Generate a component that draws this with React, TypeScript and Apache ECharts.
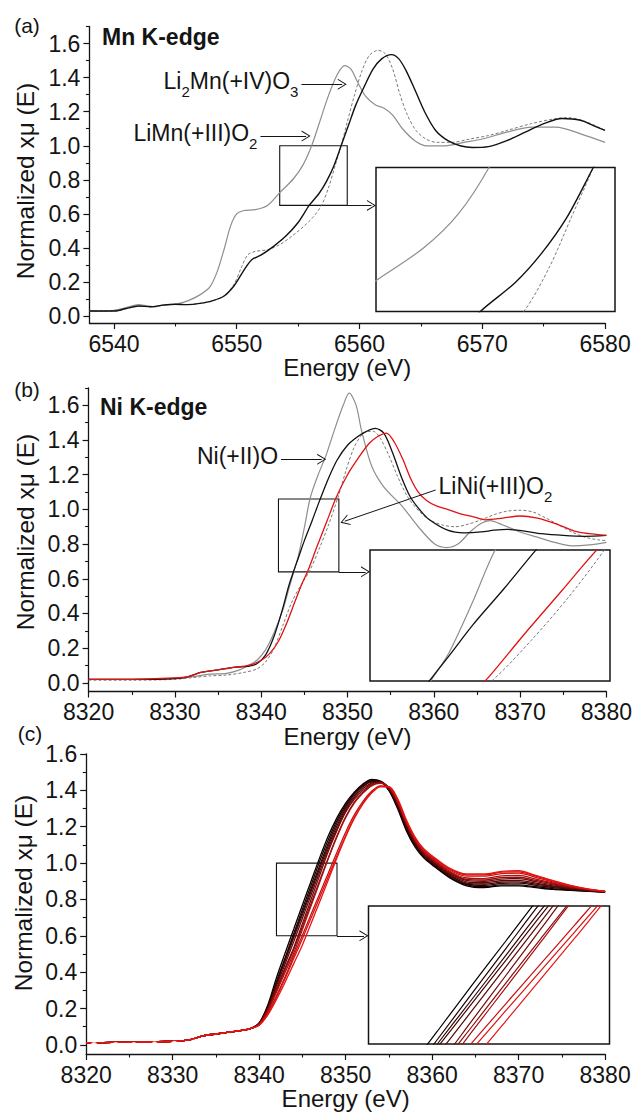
import React, { useEffect, useRef } from "react";
import * as echarts from "echarts";

const FONT = "'Liberation Sans', Arial, Helvetica, sans-serif";
const INK = "#141414";
const GRAY = "#8e8e8e";
const DASH = "#7a7a7a";
const BLACK = "#111111";
const RED = "#e01212";

// ---------- ticks ----------
const MN_X_TICKS = [6540, 6550, 6560, 6570, 6580];
const MN_X_MINOR = [6545, 6555, 6565, 6575];
const NI_X_TICKS = [8320, 8330, 8340, 8350, 8360, 8370, 8380];
const NI_X_MINOR = [8325, 8335, 8345, 8355, 8365, 8375];
const Y_TICKS = [0, 0.2, 0.4, 0.6, 0.8, 1.0, 1.2, 1.4, 1.6];
const Y_MINOR_AB = [0.1, 0.3, 0.5, 0.7, 0.9, 1.1, 1.3, 1.5, 1.7];
const Y_MINOR_C = [0.1, 0.3, 0.5, 0.7, 0.9, 1.1, 1.3, 1.5];

// ---------- (a) Mn K-edge ----------
const MN_GRAY_E = [6538, 6539, 6540, 6541, 6542, 6542.7, 6543.3, 6544, 6545, 6546, 6547, 6547.8, 6548.4, 6549, 6549.5, 6550, 6550.6, 6551.5, 6552.5, 6553.5, 6554.6, 6555.4, 6556.1, 6556.8, 6557.5, 6558.2, 6558.8, 6559.3, 6559.8, 6560.5, 6561.3, 6562, 6562.7, 6563.5, 6564.5, 6565.5, 6567, 6568.5, 6570, 6572, 6574, 6576, 6578, 6580];
const MN_GRAY_MU = [0.03, 0.03, 0.035, 0.05, 0.068, 0.06, 0.055, 0.065, 0.07, 0.09, 0.125, 0.17, 0.26, 0.4, 0.53, 0.6, 0.62, 0.625, 0.65, 0.725, 0.805, 0.888, 1.0, 1.15, 1.3, 1.42, 1.47, 1.45, 1.38, 1.29, 1.24, 1.22, 1.18, 1.1, 1.03, 1.0, 1.0, 1.02, 1.04, 1.08, 1.11, 1.11, 1.07, 1.02];
const MN_BLACK_E = [6538, 6540, 6541, 6542, 6543, 6544, 6545, 6546, 6547, 6548, 6549, 6549.8, 6550.5, 6551.2, 6552, 6553, 6554, 6555, 6555.9, 6556.7, 6557.3, 6557.9, 6558.5, 6559.1, 6559.7, 6560.4, 6561.1, 6561.8, 6562.6, 6563.2, 6563.8, 6564.5, 6565.3, 6566.2, 6567.2, 6568.2, 6569.2, 6570.5, 6572, 6573.5, 6575, 6576.5, 6578, 6579, 6580];
const MN_BLACK_MU = [0.03, 0.03, 0.045, 0.06, 0.055, 0.065, 0.07, 0.068, 0.075, 0.09, 0.12, 0.18, 0.26, 0.33, 0.36, 0.41, 0.47, 0.55, 0.65, 0.72, 0.79, 0.88, 1.0, 1.12, 1.24, 1.35, 1.45, 1.51, 1.535, 1.51, 1.44, 1.33, 1.2, 1.09, 1.03, 1.0, 0.99, 0.995, 1.03, 1.08, 1.13, 1.16, 1.15, 1.12, 1.09];
const MN_DASH_E = [6538, 6540, 6541, 6542, 6543, 6544, 6545, 6546, 6547, 6548, 6549, 6549.8, 6550.4, 6550.9, 6551.5, 6552.5, 6553.5, 6554.5, 6555.5, 6556.2, 6556.9, 6557.5, 6558, 6558.5, 6559, 6559.6, 6560.2, 6560.8, 6561.5, 6562.1, 6562.7, 6563.3, 6563.9, 6564.6, 6565.4, 6566.3, 6567.5, 6569, 6570.5, 6572, 6574, 6576, 6577, 6578.5, 6580];
const MN_DASH_MU = [0.03, 0.03, 0.045, 0.06, 0.055, 0.065, 0.07, 0.068, 0.075, 0.09, 0.12, 0.19, 0.29, 0.36, 0.38, 0.39, 0.42, 0.47, 0.53, 0.58, 0.65, 0.76, 0.88, 1.0, 1.14, 1.3, 1.44, 1.53, 1.56, 1.54, 1.45, 1.3, 1.18, 1.09, 1.04, 1.02, 1.02, 1.04, 1.06, 1.09, 1.13, 1.16, 1.165, 1.14, 1.09];

// ---------- (b) Ni K-edge references ----------
const NI_GRAY_E = [8320, 8325, 8330, 8332, 8334, 8336, 8337.5, 8338.5, 8339.5, 8340.5, 8341.5, 8342.5, 8343.2, 8343.8, 8344.3, 8345, 8345.7, 8346.6, 8347.5, 8348.5, 8349.5, 8350.2, 8351, 8351.6, 8352.8, 8354.2, 8356.3, 8358.2, 8360.1, 8361.5, 8362.8, 8364.2, 8365.5, 8366.5, 8368, 8370, 8372, 8374, 8376, 8378, 8380];
const NI_GRAY_MU = [0.02, 0.02, 0.025, 0.035, 0.05, 0.055, 0.075, 0.1, 0.13, 0.19, 0.29, 0.42, 0.54, 0.645, 0.73, 0.895, 1.07, 1.2, 1.31, 1.46, 1.6, 1.67, 1.6, 1.46, 1.25, 1.13, 1.02, 0.9, 0.8, 0.78, 0.8, 0.87, 0.92, 0.935, 0.91, 0.87, 0.84, 0.81, 0.79, 0.795, 0.81];
const NI_BLACK_E = [8320, 8325, 8330, 8331.5, 8333, 8335, 8337, 8338.5, 8339.5, 8340.5, 8341.5, 8342.5, 8343.2, 8343.8, 8344.3, 8345, 8345.9, 8346.8, 8347.8, 8348.8, 8350, 8351.2, 8352.2, 8353.2, 8354.2, 8355.2, 8356.3, 8357.3, 8358.5, 8359.5, 8361.6, 8363.5, 8365.5, 8367, 8368.5, 8370.5, 8372.5, 8375, 8377.5, 8380];
const NI_BLACK_MU = [0.02, 0.02, 0.025, 0.035, 0.06, 0.075, 0.09, 0.095, 0.11, 0.16, 0.27, 0.43, 0.56, 0.65, 0.72, 0.82, 0.935, 1.055, 1.18, 1.285, 1.37, 1.42, 1.45, 1.467, 1.44, 1.33, 1.18, 1.07, 0.99, 0.94, 0.88, 0.865, 0.87, 0.88, 0.885, 0.875, 0.86, 0.85, 0.845, 0.85];
const NI_RED_E = [8320, 8325, 8330, 8331.5, 8333, 8335, 8337, 8338.5, 8340, 8341, 8342, 8343, 8344, 8344.8, 8345.4, 8346.5, 8347.6, 8348.7, 8350, 8351.3, 8352.5, 8353.5, 8354.5, 8355.4, 8356.4, 8357.3, 8358.2, 8359.2, 8360.3, 8361.6, 8363, 8364.4, 8366, 8368, 8370, 8372, 8374, 8376.3, 8378, 8380];
const NI_RED_MU = [0.02, 0.02, 0.028, 0.035, 0.06, 0.075, 0.09, 0.1, 0.13, 0.17, 0.24, 0.35, 0.48, 0.58, 0.645, 0.79, 0.93, 1.07, 1.2, 1.3, 1.38, 1.42, 1.44, 1.39, 1.29, 1.18, 1.1, 1.05, 1.02, 1.0, 0.975, 0.96, 0.94, 0.95, 0.962, 0.95, 0.92, 0.875, 0.86, 0.85];
const NI_DASH_E = [8320, 8325, 8330, 8332, 8334, 8336, 8338, 8339.5, 8340.5, 8341.5, 8342.5, 8343.5, 8344.5, 8345.6, 8346.7, 8347.8, 8348.9, 8349.8, 8350.7, 8351.5, 8352.3, 8353, 8353.8, 8354.8, 8355.8, 8357, 8358.3, 8359.5, 8361, 8362.5, 8364, 8365.5, 8367, 8368.5, 8370, 8371.5, 8373, 8374.5, 8376, 8377.5, 8379, 8380];
const NI_DASH_MU = [0.015, 0.015, 0.02, 0.03, 0.04, 0.045, 0.06, 0.08, 0.12, 0.2, 0.33, 0.46, 0.555, 0.645, 0.77, 0.91, 1.07, 1.22, 1.35, 1.42, 1.45, 1.45, 1.41, 1.31, 1.19, 1.07, 0.99, 0.94, 0.91, 0.9, 0.915, 0.94, 0.97, 0.99, 0.995, 0.985, 0.95, 0.91, 0.87, 0.84, 0.825, 0.82];

// ---------- (c) Ni K-edge series of spectra ----------
const C_PRE_E = [8320, 8322, 8324, 8326, 8328, 8330, 8331.5, 8332.5, 8333.5, 8335, 8336.5, 8338, 8339];
const C_PRE_MU = [0.012, 0.013, 0.014, 0.015, 0.017, 0.02, 0.025, 0.035, 0.05, 0.06, 0.07, 0.08, 0.09];
const C_EDGE_E = [8340, 8341, 8342, 8343, 8344, 8345, 8346, 8347, 8348, 8349, 8350, 8351, 8352, 8353, 8354, 8355, 8356, 8357, 8358, 8359, 8360, 8362, 8364, 8366, 8368, 8370, 8372, 8374, 8376, 8378, 8380];
const C_MU_1 = [0.12, 0.22, 0.37, 0.505, 0.637, 0.77, 0.9, 1.03, 1.15, 1.25, 1.33, 1.39, 1.435, 1.46, 1.45, 1.4, 1.3, 1.18, 1.09, 1.03, 0.99, 0.92, 0.875, 0.865, 0.875, 0.875, 0.865, 0.855, 0.85, 0.845, 0.84];
const C_MU_2 = [0.12, 0.21, 0.35, 0.48, 0.613, 0.746, 0.878, 1.01, 1.13, 1.235, 1.32, 1.385, 1.43, 1.455, 1.45, 1.4, 1.31, 1.19, 1.1, 1.035, 0.995, 0.925, 0.88, 0.87, 0.88, 0.88, 0.87, 0.86, 0.852, 0.846, 0.84];
const C_MU_3 = [0.12, 0.21, 0.34, 0.47, 0.6, 0.729, 0.858, 0.987, 1.11, 1.22, 1.31, 1.38, 1.425, 1.45, 1.45, 1.405, 1.315, 1.2, 1.105, 1.04, 1.0, 0.93, 0.885, 0.878, 0.888, 0.89, 0.878, 0.865, 0.855, 0.847, 0.84];
const C_MU_4 = [0.12, 0.205, 0.335, 0.463, 0.59, 0.717, 0.844, 0.972, 1.095, 1.205, 1.3, 1.37, 1.42, 1.445, 1.447, 1.41, 1.32, 1.205, 1.11, 1.045, 1.005, 0.935, 0.89, 0.885, 0.895, 0.897, 0.884, 0.87, 0.858, 0.848, 0.84];
const C_MU_5 = [0.115, 0.2, 0.325, 0.445, 0.568, 0.696, 0.825, 0.954, 1.08, 1.19, 1.29, 1.36, 1.41, 1.44, 1.445, 1.41, 1.325, 1.21, 1.115, 1.05, 1.01, 0.94, 0.897, 0.892, 0.903, 0.905, 0.89, 0.874, 0.86, 0.85, 0.84];
const C_MU_6 = [0.115, 0.195, 0.31, 0.425, 0.535, 0.667, 0.8, 0.933, 1.065, 1.18, 1.28, 1.35, 1.4, 1.435, 1.443, 1.415, 1.33, 1.215, 1.12, 1.055, 1.015, 0.945, 0.905, 0.9, 0.912, 0.915, 0.898, 0.88, 0.864, 0.852, 0.842];
const C_MU_7 = [0.115, 0.19, 0.3, 0.415, 0.525, 0.65, 0.778, 0.905, 1.03, 1.15, 1.255, 1.335, 1.39, 1.43, 1.44, 1.415, 1.335, 1.22, 1.125, 1.06, 1.02, 0.95, 0.91, 0.907, 0.92, 0.922, 0.905, 0.885, 0.868, 0.854, 0.843];
const C_MU_8 = [0.112, 0.185, 0.29, 0.4, 0.505, 0.635, 0.765, 0.895, 1.025, 1.145, 1.25, 1.33, 1.385, 1.425, 1.438, 1.418, 1.34, 1.225, 1.13, 1.065, 1.025, 0.955, 0.918, 0.915, 0.93, 0.932, 0.912, 0.89, 0.872, 0.856, 0.844];
const C_MU_9 = [0.11, 0.175, 0.27, 0.375, 0.49, 0.603, 0.718, 0.832, 0.946, 1.06, 1.17, 1.265, 1.34, 1.395, 1.425, 1.42, 1.345, 1.23, 1.135, 1.07, 1.03, 0.962, 0.928, 0.928, 0.942, 0.945, 0.922, 0.895, 0.873, 0.856, 0.844];
const C_MU_10 = [0.11, 0.17, 0.262, 0.365, 0.475, 0.584, 0.698, 0.812, 0.926, 1.04, 1.15, 1.25, 1.33, 1.39, 1.422, 1.42, 1.35, 1.235, 1.14, 1.075, 1.035, 0.968, 0.935, 0.935, 0.95, 0.952, 0.928, 0.9, 0.876, 0.857, 0.845];
const C_MU_11 = [0.108, 0.165, 0.25, 0.345, 0.447, 0.55, 0.668, 0.788, 0.908, 1.03, 1.145, 1.245, 1.325, 1.385, 1.42, 1.42, 1.355, 1.24, 1.145, 1.08, 1.04, 0.972, 0.94, 0.94, 0.955, 0.958, 0.932, 0.903, 0.878, 0.858, 0.845];
const C_COLORS = ["#000000", "#1e0202", "#300404", "#440606", "#5a0808", "#720a0a", "#8c0c0c", "#a80e0e", "#c81010", "#d81212", "#e81414"];
const C_MARK_E = [8320.9, 8323.4, 8325.5, 8327.9, 8330.2, 8332.6];
const C_MARK_MU = [-0.004, -0.004, -0.003, 0.0, 0.004, 0.012];

// ---------- layout (pixels) ----------
const L = {
  a: { left: 89.4, top: 26.5, width: 515.7, height: 296.5 },
  aIn: { left: 376, top: 167.5, width: 239, height: 144 },
  b: { left: 88.6, top: 388, width: 517.8, height: 303.5 },
  bIn: { left: 370, top: 550, width: 240, height: 131 },
  c: { left: 86.2, top: 754, width: 518.9, height: 300 },
  cIn: { left: 368.5, top: 906, width: 241, height: 138 },
};

const zip = (xs: number[], ys: number[]) => xs.map((x, i) => [x, ys[i]]);
const labelStyle = { fontSize: 23, fontFamily: FONT, color: INK };
const CHEVRON = "path://M0,10L5,0L10,10L9,10L5,2L1,10Z";
const RICH = {
  m: { fontSize: 23, fontFamily: FONT, color: INK, lineHeight: 30, verticalAlign: "top" },
  s: { fontSize: 15, fontFamily: FONT, color: INK, lineHeight: 15, verticalAlign: "bottom" },
};

function mainX(gridIndex: number, min: number, max: number, ticks: number[]) {
  return {
    type: "value", gridIndex, min, max, position: "bottom",
    axisLine: { show: true, onZero: false, lineStyle: { color: INK, width: 1.3 } },
    axisTick: { show: true, customValues: ticks, length: 6, lineStyle: { color: INK, width: 1.2 } },
    axisLabel: { show: true, customValues: ticks, margin: 9, ...labelStyle, formatter: (v: number) => String(Math.round(v)) },
    splitLine: { show: false },
    name: "Energy (eV)", nameLocation: "middle", nameGap: 29,
    nameTextStyle: { ...labelStyle, fontSize: 24 },
  };
}
function minorX(gridIndex: number, min: number, max: number, ticks: number[]) {
  return {
    type: "value", gridIndex, min, max, position: "bottom",
    axisLine: { show: false, onZero: false },
    axisTick: { show: true, customValues: ticks, length: 3.5, lineStyle: { color: INK, width: 1.1 } },
    axisLabel: { show: false }, splitLine: { show: false },
  };
}
function mainY(gridIndex: number, min: number, max: number) {
  return {
    type: "value", gridIndex, min, max, position: "left",
    axisLine: { show: true, onZero: false, lineStyle: { color: INK, width: 1.3 } },
    axisTick: { show: true, customValues: Y_TICKS, length: 6, lineStyle: { color: INK, width: 1.2 } },
    axisLabel: { show: true, customValues: Y_TICKS, margin: 9, ...labelStyle, formatter: (v: number) => v.toFixed(1) },
    splitLine: { show: false },
  };
}
function minorY(gridIndex: number, min: number, max: number, ticks: number[]) {
  return {
    type: "value", gridIndex, min, max, position: "left",
    axisLine: { show: false, onZero: false },
    axisTick: { show: true, customValues: ticks, length: 3.5, lineStyle: { color: INK, width: 1.1 } },
    axisLabel: { show: false }, splitLine: { show: false },
  };
}
function hidden(gridIndex: number, min: number, max: number) {
  return { type: "value", gridIndex, min, max, show: false, splitLine: { show: false } };
}
function line(ai: number, data: number[][], color: string, width: number, dashed = false, z = 2): any {
  return {
    type: "line", xAxisIndex: ai, yAxisIndex: ai, data, symbol: "none", showSymbol: false,
    smooth: 0.3, clip: true, silent: true, z,
    lineStyle: { color, width, type: dashed ? [3, 2] : "solid" },
    emphasis: { disabled: true },
  };
}
function box(x1: number, y1: number, x2: number, y2: number) {
  return {
    silent: true, emphasis: { disabled: true }, label: { show: false },
    itemStyle: { color: "rgba(0,0,0,0)", borderColor: INK, borderWidth: 1.1 },
    data: [[{ coord: [x1, y1] }, { coord: [x2, y2] }]],
  };
}
function arrow(x1: number, y1: number, x2: number, y2: number, text?: string) {
  return [
    { coord: [x1, y1], label: text ? { show: true, formatter: text } : { show: false } },
    { coord: [x2, y2] },
  ];
}
function arrows(items: any[]) {
  return {
    silent: true, symbol: ["none", CHEVRON], symbolSize: [11, 9],
    lineStyle: { color: INK, width: 1, type: "solid" },
    label: { show: true, position: "start", distance: 3, rich: RICH },
    emphasis: { disabled: true },
    data: items,
  };
}
function yTitle(x: number, y: number) {
  return {
    type: "text", x, y, rotation: Math.PI / 2,
    style: { text: "Normalized xμ (E)", fontSize: 24.5, fontFamily: FONT, fill: INK, align: "center", verticalAlign: "middle" },
  };
}

function buildOption(): any {
  const series: any[] = [];
  // (a)
  const aG = zip(MN_GRAY_E, MN_GRAY_MU), aK = zip(MN_BLACK_E, MN_BLACK_MU), aD = zip(MN_DASH_E, MN_DASH_MU);
  series.push({
    ...line(0, aG, GRAY, 1.2),
    markArea: box(6553.5, 0.65, 6559, 1.0),
    markLine: arrows([
      arrow(6555.27, 1.361, 6558.59, 1.361, "{m|Li}{s|2}{m|Mn(+IV)O}{s|3}"),
      arrow(6551.93, 1.057, 6555.65, 1.057, "{m|LiMn(+III)O}{s|2}"),
      arrow(6559, 0.65, 6560.97, 0.65),
    ]),
  });
  series.push(line(0, aD, DASH, 1.0, true));
  series.push(line(0, aK, BLACK, 1.4));
  series.push(line(2, aG, GRAY, 1.2, false, 6));
  series.push(line(2, aD, DASH, 1.0, true, 6));
  series.push(line(2, aK, BLACK, 1.4, false, 6));

  // (b)
  const bG = zip(NI_GRAY_E, NI_GRAY_MU), bK = zip(NI_BLACK_E, NI_BLACK_MU), bR = zip(NI_RED_E, NI_RED_MU), bD = zip(NI_DASH_E, NI_DASH_MU);
  series.push({
    ...line(3, bG, GRAY, 1.2),
    markArea: box(8342, 0.64, 8349, 1.06),
    markLine: arrows([
      arrow(8342.3, 1.289, 8347.01, 1.289, "{m|Ni(+II)O}"),
      arrow(8360.22, 1.112, 8349.68, 0.932, "{m|LiNi(+III)O}{s|2}"),
      arrow(8349, 0.64, 8352.09, 0.64),
    ]),
  });
  series.push(line(3, bD, DASH, 1.0, true));
  series.push(line(3, bK, BLACK, 1.3));
  series.push(line(3, bR, RED, 1.3));
  series.push(line(5, bG, GRAY, 1.2, false, 6));
  series.push(line(5, bD, DASH, 1.0, true, 6));
  series.push(line(5, bK, BLACK, 1.3, false, 6));
  series.push(line(5, bR, RED, 1.3, false, 6));

  // (c)
  const cMus = [C_MU_1, C_MU_2, C_MU_3, C_MU_4, C_MU_5, C_MU_6, C_MU_7, C_MU_8, C_MU_9, C_MU_10, C_MU_11];
  const cData = cMus.map((mu) => zip(C_PRE_E.concat(C_EDGE_E), C_PRE_MU.concat(mu)));
  cData.forEach((d, i) => {
    const s = line(6, d, C_COLORS[i], 1.3);
    if (i === 0) {
      s.markArea = box(8342, 0.6, 8349, 1.0);
      s.markLine = arrows([arrow(8349, 0.6, 8352.12, 0.6)]);
    }
    series.push(s);
  });
  series.push({
    type: "scatter", xAxisIndex: 6, yAxisIndex: 6, data: zip(C_MARK_E, C_MARK_MU),
    symbol: "emptyCircle", symbolSize: 5, silent: true, z: 3,
    itemStyle: { color: "#ffffff", borderColor: RED, borderWidth: 1 },
    emphasis: { disabled: true },
  });
  cData.forEach((d, i) => series.push(line(8, d, C_COLORS[i], 1.2, false, 6)));

  const insetGrid = (r: any) => ({ ...r, show: true, backgroundColor: "#ffffff", borderColor: INK, borderWidth: 1.5, z: 5, containLabel: false });

  return {
    animation: false,
    backgroundColor: "#ffffff",
    textStyle: { fontFamily: FONT },
    grid: [
      { ...L.a, containLabel: false },
      insetGrid(L.aIn),
      { ...L.b, containLabel: false },
      insetGrid(L.bIn),
      { ...L.c, containLabel: false },
      insetGrid(L.cIn),
    ],
    xAxis: [
      mainX(0, 6538, 6580, MN_X_TICKS), minorX(0, 6538, 6580, MN_X_MINOR), hidden(1, 6553.5, 6559),
      mainX(2, 8320, 8380, NI_X_TICKS), minorX(2, 8320, 8380, NI_X_MINOR), hidden(3, 8342, 8349),
      mainX(4, 8320, 8380, NI_X_TICKS), minorX(4, 8320, 8380, NI_X_MINOR), hidden(5, 8342, 8349),
    ],
    yAxis: [
      mainY(0, -0.04, 1.7), minorY(0, -0.04, 1.7, Y_MINOR_AB), hidden(1, 0.65, 1.0),
      mainY(2, -0.05, 1.7), minorY(2, -0.05, 1.7, Y_MINOR_AB), hidden(3, 0.64, 1.06),
      mainY(4, -0.05, 1.6), minorY(4, -0.05, 1.6, Y_MINOR_C), hidden(5, 0.6, 1.0),
    ],
    series,
    graphic: [
      { type: "text", x: 27, y: 25, style: { text: "(a)", fontSize: 21, fontFamily: FONT, fill: INK, align: "center", verticalAlign: "middle" } },
      { type: "text", x: 102, y: 37, style: { text: "Mn K-edge", fontSize: 23, fontWeight: "bold", fontFamily: FONT, fill: INK, align: "left", verticalAlign: "middle" } },
      { type: "text", x: 27, y: 389, style: { text: "(b)", fontSize: 21, fontFamily: FONT, fill: INK, align: "center", verticalAlign: "middle" } },
      { type: "text", x: 100, y: 407, style: { text: "Ni K-edge", fontSize: 23, fontWeight: "bold", fontFamily: FONT, fill: INK, align: "left", verticalAlign: "middle" } },
      { type: "text", x: 30, y: 733, style: { text: "(c)", fontSize: 21, fontFamily: FONT, fill: INK, align: "center", verticalAlign: "middle" } },
      yTitle(25, 181),
      yTitle(25, 532),
      yTitle(23, 893),
    ],
  };
}

export default function App() {
  const ref = useRef<HTMLDivElement>(null);
  useEffect(() => {
    if (!ref.current) return;
    const chart = echarts.init(ref.current, undefined, { renderer: "svg" });
    chart.setOption(buildOption());
    return () => chart.dispose();
  }, []);
  return (
    <div
      ref={ref}
      style={{ position: "absolute", left: 0, top: 0, width: 640, height: 1115, background: "#ffffff" }}
    />
  );
}
